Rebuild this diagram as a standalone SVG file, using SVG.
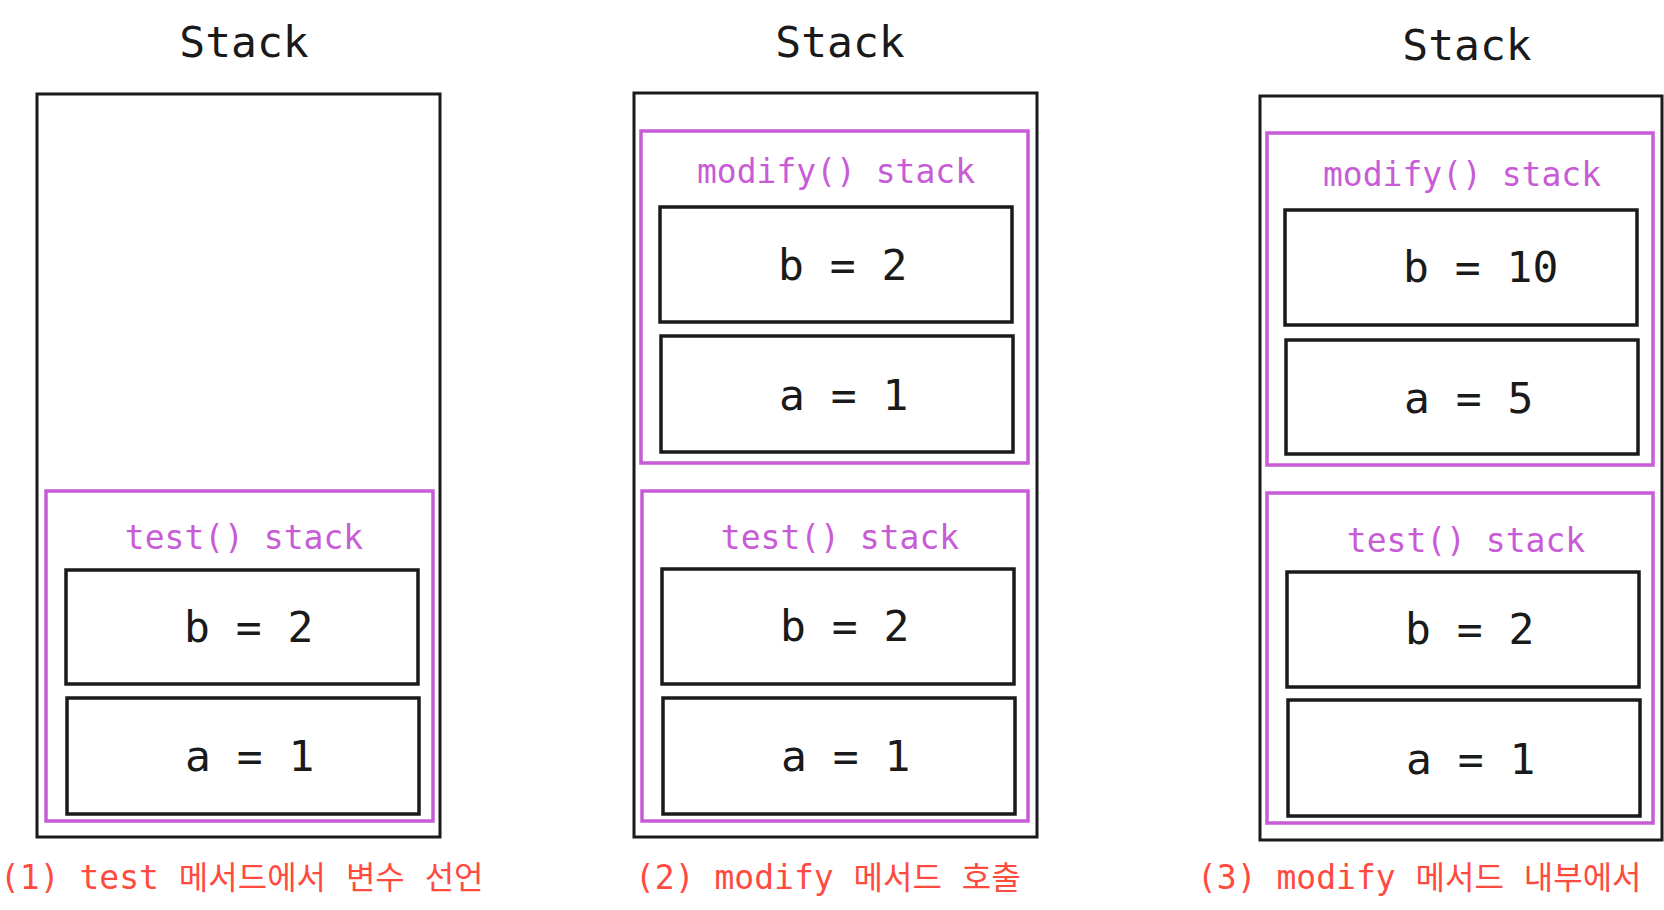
<svg xmlns="http://www.w3.org/2000/svg" width="1664" height="910" viewBox="0 0 1664 910">
<style>
text{font-family:"DejaVu Sans Mono","Liberation Mono","Noto Sans CJK KR",monospace}
.title{font-size:43px;fill:#1a1a1a;text-anchor:middle}
.outer{fill:#fff;stroke:#1a1a1a;stroke-width:3}
.frame{fill:none;stroke:#c85bd6;stroke-width:3.5}
.fl{font-size:33px;fill:#c85bd6;text-anchor:middle}
.var{fill:#fff;stroke:#1a1a1a;stroke-width:3.5}
.vt{font-size:43px;fill:#1a1a1a}
.cap{font-size:33px;fill:#ff4a3f}
.ko{font-family:"Noto Sans CJK KR",sans-serif;font-size:32px}
</style>
<rect width="1664" height="910" fill="#fff"/>
<g id="panel1">
<text class="title" x="244" y="57">Stack</text>
<rect class="outer" x="37" y="94" width="403" height="743"/>
<g id="p1-test">
<rect class="frame" x="46" y="491" width="387" height="330"/>
<text class="fl" x="244" y="549">test() stack</text>
<g id="p1-b"><rect class="var" x="66" y="570" width="352" height="114"/><text class="vt" x="184" y="642">b = 2</text></g>
<g id="p1-a"><rect class="var" x="67" y="698" width="352" height="116"/><text class="vt" x="185" y="771">a = 1</text></g>
</g>
<text class="cap" x="0" y="889">(1) test <tspan class="ko">메서드에서</tspan> <tspan class="ko">변수</tspan> <tspan class="ko">선언</tspan></text>
</g>
<g id="panel2">
<text class="title" x="840" y="57">Stack</text>
<rect class="outer" x="634" y="93" width="403" height="744"/>
<g id="p2-modify">
<rect class="frame" x="641" y="131" width="387" height="332"/>
<text class="fl" x="836" y="183">modify() stack</text>
<g id="p2m-b"><rect class="var" x="660" y="207" width="352" height="115"/><text class="vt" x="778" y="280">b = 2</text></g>
<g id="p2m-a"><rect class="var" x="661" y="336" width="352" height="116"/><text class="vt" x="779" y="410">a = 1</text></g>
</g>
<g id="p2-test">
<rect class="frame" x="642" y="491" width="386" height="330"/>
<text class="fl" x="840" y="549">test() stack</text>
<g id="p2t-b"><rect class="var" x="662" y="569" width="352" height="115"/><text class="vt" x="780" y="641">b = 2</text></g>
<g id="p2t-a"><rect class="var" x="663" y="698" width="352" height="116"/><text class="vt" x="781" y="771">a = 1</text></g>
</g>
<text class="cap" x="635" y="889">(2) modify <tspan class="ko">메서드</tspan> <tspan class="ko">호출</tspan></text>
</g>
<g id="panel3">
<text class="title" x="1467" y="60">Stack</text>
<rect class="outer" x="1260" y="96" width="402" height="744"/>
<g id="p3-modify">
<rect class="frame" x="1267" y="133" width="386" height="332"/>
<text class="fl" x="1462" y="186">modify() stack</text>
<g id="p3m-b"><rect class="var" x="1285" y="210" width="352" height="115"/><text class="vt" x="1403" y="282">b = 10</text></g>
<g id="p3m-a"><rect class="var" x="1286" y="340" width="352" height="114"/><text class="vt" x="1404" y="413">a = 5</text></g>
</g>
<g id="p3-test">
<rect class="frame" x="1267" y="493" width="386" height="330"/>
<text class="fl" x="1466" y="552">test() stack</text>
<g id="p3t-b"><rect class="var" x="1287" y="572" width="352" height="115"/><text class="vt" x="1405" y="644">b = 2</text></g>
<g id="p3t-a"><rect class="var" x="1288" y="700" width="352" height="116"/><text class="vt" x="1406" y="774">a = 1</text></g>
</g>
<text class="cap" x="1197" y="889">(3) modify <tspan class="ko">메서드</tspan> <tspan class="ko">내부에서</tspan></text>
</g>
<g id="connectors"/>
</svg>
